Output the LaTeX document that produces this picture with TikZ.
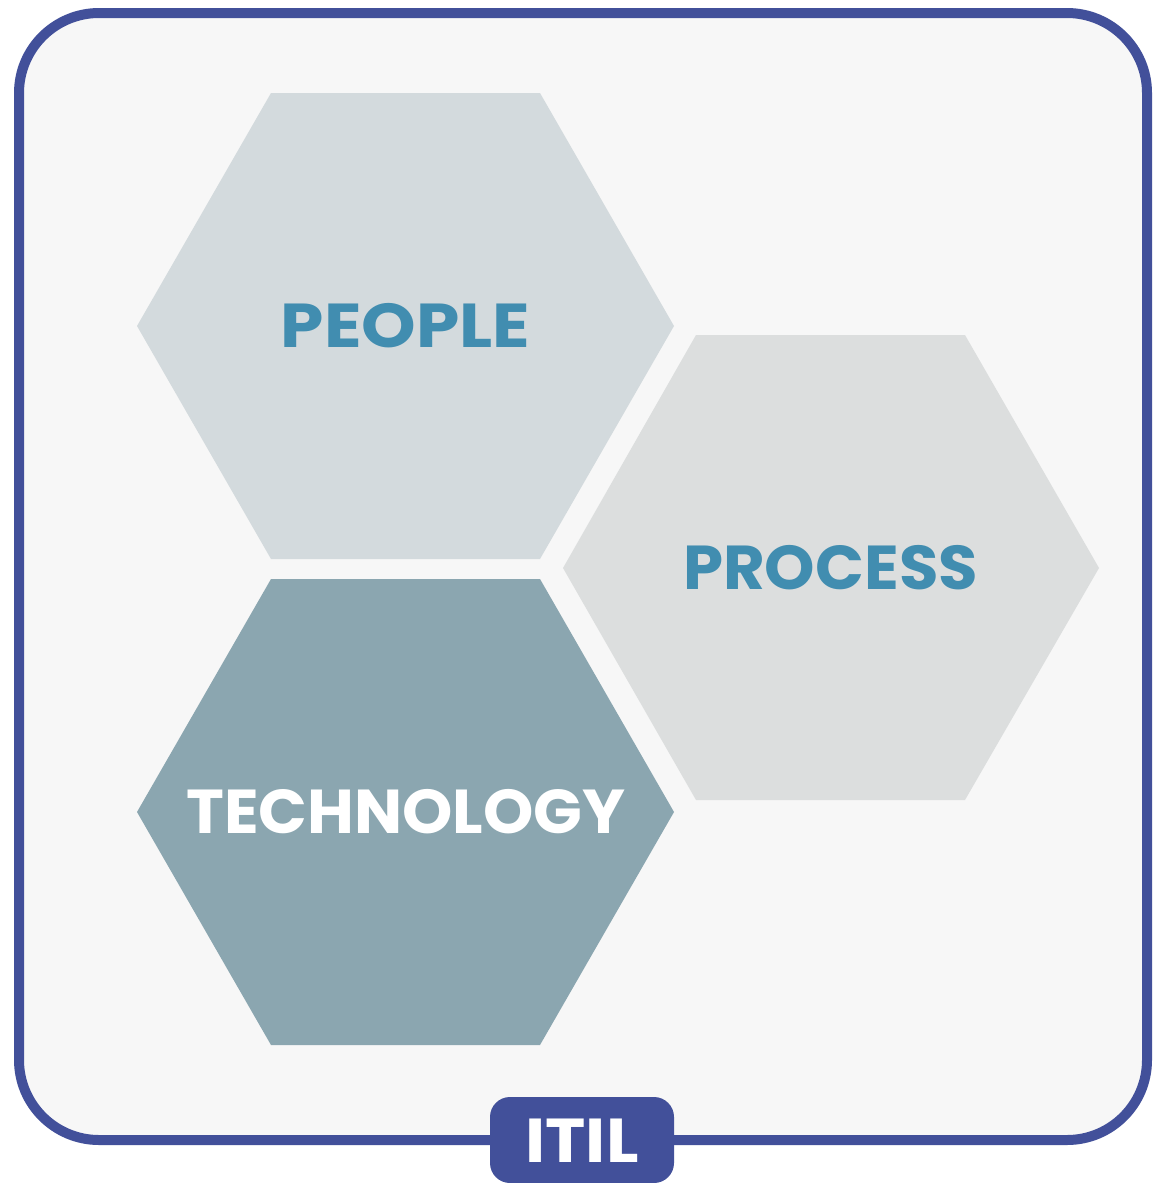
\documentclass[tikz,border=0pt]{standalone}
\usepackage{fontspec}
\setmainfont{Poppins}[UprightFont=* SemiBold, BoldFont=* Bold]
\definecolor{frameblue}{HTML}{42509A}
\definecolor{bgfill}{HTML}{F7F7F7}
\definecolor{hexpeople}{HTML}{D3DADD}
\definecolor{hexprocess}{HTML}{DCDEDE}
\definecolor{hextech}{HTML}{8BA6B0}
\definecolor{labelblue}{HTML}{418DB0}
\begin{document}
\begin{tikzpicture}[x=1pt,y=-1pt,
  hexlabel/.style={font=\bfseries\fontsize{62}{62}\selectfont, inner sep=0pt, anchor=center},
  badge/.style={fill=frameblue, rounded corners=20pt}]
\useasboundingbox (0,0) rectangle (1164,1183);
\draw[frameblue, line width=10pt, fill=bgfill, rounded corners=80pt] (19,13) rectangle (1147,1140);
% hexagons
\fill[hexpeople] (271,93) -- (540,93) -- (674,326) -- (540,559) -- (271,559) -- (137,326) -- cycle;
\fill[hextech] (271,579) -- (540,579) -- (674,812) -- (540,1045) -- (271,1045) -- (137,812) -- cycle;
\fill[hexprocess] (696,335) -- (965,335) -- (1099,568) -- (965,800) -- (696,800) -- (563,568) -- cycle;
\node[hexlabel, text=labelblue] (people) at (405.5,326) {\scalebox{1.12}[1]{PEOPLE}};
\node[hexlabel, text=labelblue] (process) at (830.5,568) {\scalebox{1.035}[1]{PROCESS}};
\node[hexlabel, text=white] (tech) at (406,812) {\scalebox{1.033}[1]{TECHNOLOGY}};
% badge
\fill[badge] (490,1097) rectangle (674,1183);
\node[hexlabel, text=white] (itil) at (582,1141) {\scalebox{1.1}[1]{ITIL}};
\end{tikzpicture}
\end{document}
